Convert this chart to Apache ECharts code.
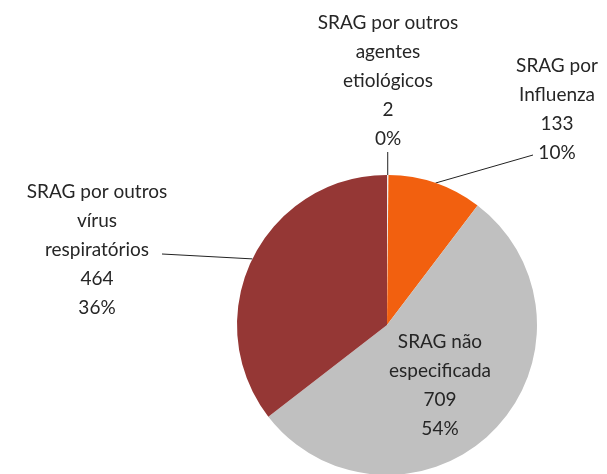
<!DOCTYPE html>
<html><head><meta charset="utf-8">
<script src="https://cdn.jsdelivr.net/npm/echarts@6/dist/echarts.min.js"></script>
<style>html,body{margin:0;padding:0;background:#fff}#c{width:607px;height:474px}</style>
</head><body><div id="c"></div>
<script>
const categories = ['SRAG por outros agentes etiológicos', 'SRAG por Influenza', 'SRAG não especificada', 'SRAG por outros vírus respiratórios'];
const labelLines = ['SRAG por outros\nagentes\netiológicos', 'SRAG por\nInfluenza', 'SRAG não\nespecificada', 'SRAG por outros\nvírus\nrespiratórios'];
const values = [2, 133, 709, 464];
const colors = ['#ececec', '#f2600f', '#c0c0c0', '#953735'];

const labelPos = [[388, 81], [557, 109], [440, 385], [97, 250]];
const lineEnds = [[null, 152], [533, 155], null, [162, 254]];

const chart = echarts.init(document.getElementById('c'));
chart.setOption({
  animation: false,
  series: [{
    type: 'pie',
    center: [387, 325],
    radius: [0, 150],
    startAngle: 90,
    clockwise: true,
    percentPrecision: 0,
    avoidLabelOverlap: false,
    data: categories.map((n, i) => ({
      name: n, value: values[i],
      itemStyle: { color: colors[i] },
      labelLine: { show: i !== 2 }
    })),
    label: {
      show: true,
      position: 'outside',
      formatter: p => labelLines[p.dataIndex] + '\n' + p.value + '\n' + p.percent + '%',
      fontFamily: 'Lato',
      fontSize: 19,
      lineHeight: 29,
      color: '#262626',
      align: 'center'
    },
    labelLine: { show: true, length: 5, length2: 5, lineStyle: { color: '#222', width: 1 } },
    emphasis: { disabled: true },
    labelLayout: function (params) {
      const i = params.dataIndex;
      const res = { x: labelPos[i][0], y: labelPos[i][1], align: 'center', verticalAlign: 'middle' };
      if (lineEnds[i] && params.labelLinePoints) {
        const p0 = params.labelLinePoints[0];
        const end = [lineEnds[i][0] === null ? p0[0] : lineEnds[i][0], lineEnds[i][1]];
        res.labelLinePoints = [p0, end, end];
      }
      return res;
    }
  }]
});
</script></body></html>
